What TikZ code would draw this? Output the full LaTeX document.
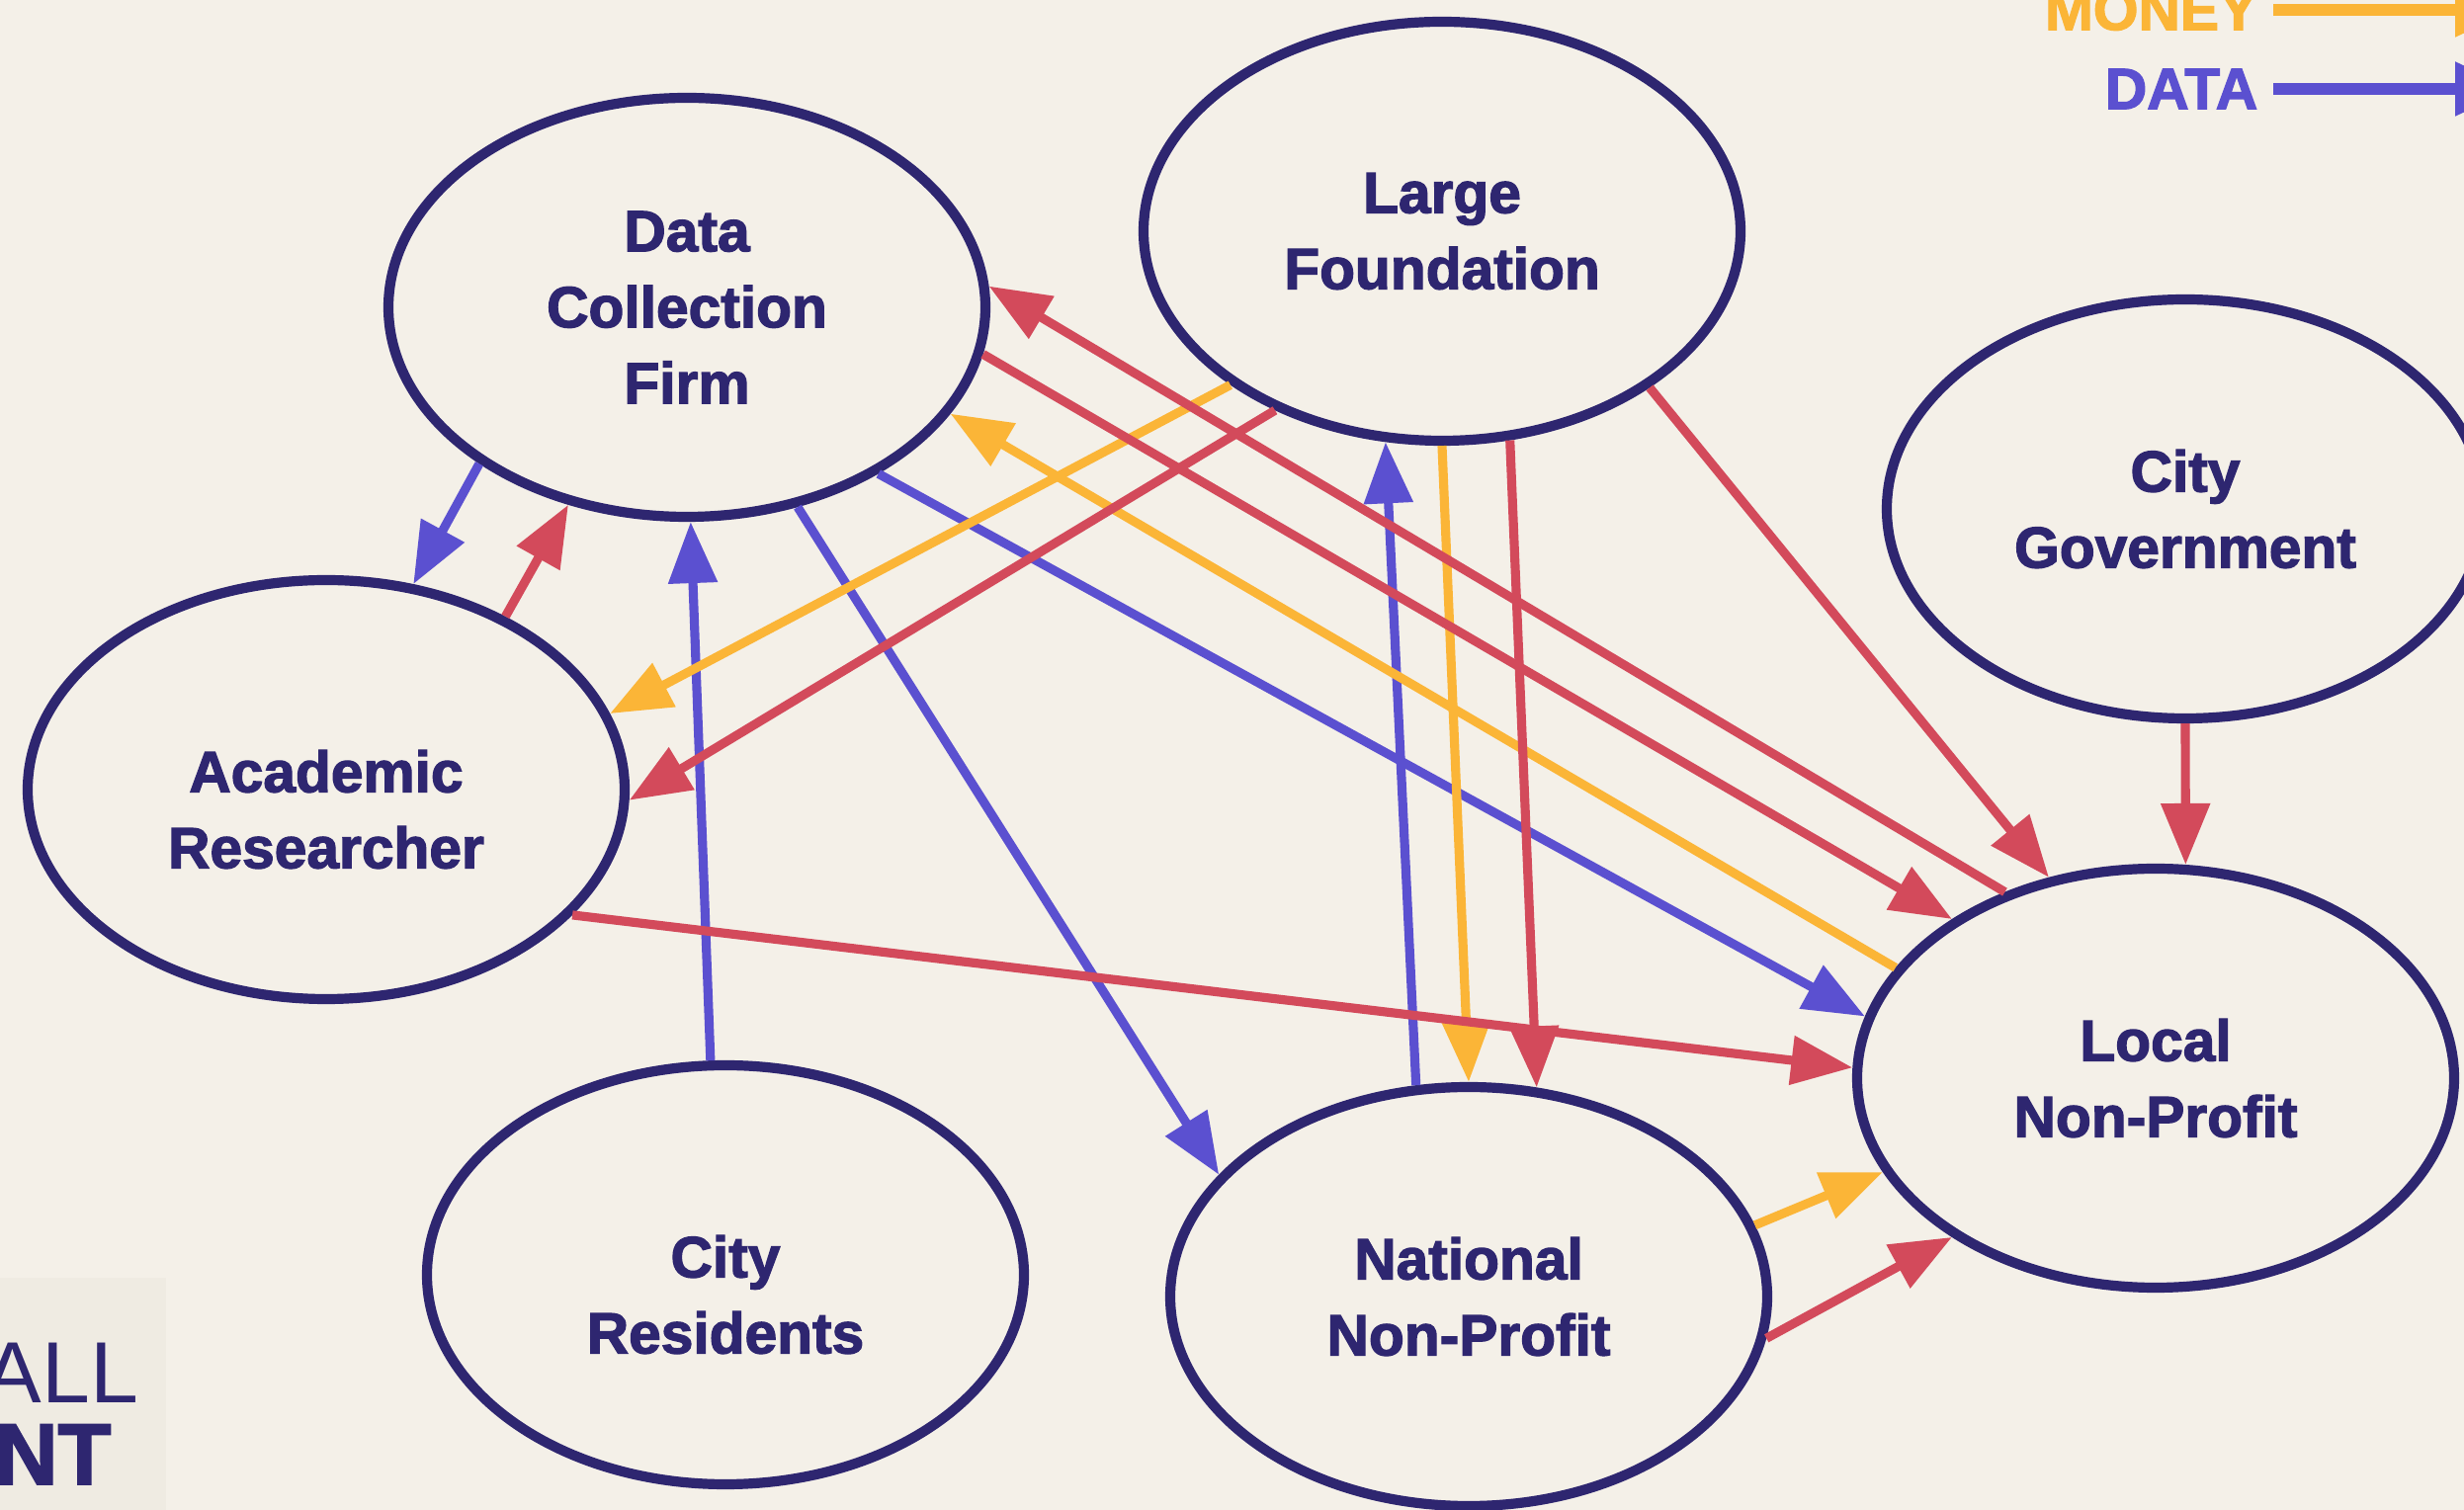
\documentclass[tikz,border=0pt]{standalone}
\usepackage{fontspec}
\setmainfont{Liberation Sans}[BoldFeatures={FakeBold=2.2}]
\usepackage{tikz}
\usetikzlibrary{
  arrows.meta,      % Triangle 箭头
  shapes.geometric  % 椭圆节点
}
\definecolor{paper}{HTML}{F4F0E8}     % 底色
\definecolor{logopaper}{HTML}{EFEBE2} % 左下角标志底色
\definecolor{ink}{HTML}{2E2670}       % 椭圆与文字的深蓝
\definecolor{flowblue}{HTML}{5B50D0}  % 数据流
\definecolor{flowred}{HTML}{D34A5B}   % 红色流向
\definecolor{floworange}{HTML}{FBB537}% 资金流
\newcommand{\partyfont}{\bfseries\fontsize{16.7}{21.9}\selectfont}
\tikzset{
  party/.style={
    ellipse,
    draw=ink,
    line width=2.9pt,
    minimum width=6.04cm,
    minimum height=4.24cm,
    inner sep=0pt,
    align=center,
    text=ink,
    font=\partyfont
  },
  party label/.style={
    align=center,
    text=ink,
    font=\partyfont,
    inner sep=0pt,
    yshift=-0.2cm
  },
  flow/.style={
    -{Triangle[length=0.62cm, width=0.48cm]},
    line width=2.6pt
  },
  data flow/.style={flow, color=flowblue},
  money flow/.style={flow, color=floworange},
  red flow/.style={flow, color=flowred},
  key text/.style={
    font=\partyfont,
    inner sep=4pt,
    anchor=east
  },
  key arrow/.style={
    -{Triangle[length=0.6cm, width=0.52cm]},
    line width=3.3pt
  }
}

\begin{document}
\begin{tikzpicture}[line width=1pt] % 先铺底色，再放七个椭圆，最后连三种颜色的箭头

  % 画布与底色
  \clip (0,0) rectangle (24.93,-15.28); % 画布大小
  \fill[paper] (0,0) rectangle (24.93,-15.28); % 底色
  \fill[logopaper] (0,-12.93) rectangle (1.68,-15.28); % 左下角标志的底块
  \node[anchor=base east, text=ink, font=\fontsize{25}{25}\selectfont, inner sep=0pt] (logotop) at (1.42,-14.20) {ALL}; % 标志上行，左侧被裁掉
  \node[anchor=base east, text=ink, font=\bfseries\fontsize{25}{25}\selectfont, inner sep=0pt] (logobottom) at (1.14,-15.02) {NT}; % 标志下行

  % 各方椭圆
  \node[party] (dcf) at (6.95,-3.11) {Data\\Collection\\Firm}; % 数据采集公司
  \node[party] (lf) at (14.59,-2.34) {Large\\Foundation}; % 大型基金会
  \node[party] (cg) at (22.11,-5.15) {City\\Government}; % 市政府
  \node[party, label={[party label]center:Academic\\Researcher}] (ar) at (3.30,-7.99) {}; % 学术研究者，文字偏下
  \node[party, label={[party label]center:City\\Residents}] (cr) at (7.34,-12.90) {}; % 市民，文字偏下
  \node[party] (nnp) at (14.86,-13.12) {National\\Non-Profit}; % 全国性非营利组织
  \node[party] (lnp) at (21.81,-10.91) {Local\\Non-Profit}; % 地方非营利组织

  % 数据流（蓝）
  \draw[data flow] (dcf.217) -- (ar.67);
  \draw[data flow] (cr.94) -- (dcf.-89);
  \draw[data flow] (dcf.-61) -- (nnp.154);
  \draw[data flow] (dcf.-41) -- (lnp.168);
  \draw[data flow] (nnp.104) -- (lf.-105);

  % 资金流（橙）
  \draw[money flow] (lf.216) -- (ar.15);
  \draw[money flow] (lnp.157) -- (dcf.-22);
  \draw[money flow] (lf.-90) -- (nnp.90);
  \draw[money flow] (nnp.14) -- (lnp.199);

  % 红色流向
  \draw[red flow] (ar.44) -- (dcf.239);
  \draw[red flow] (lf.227) -- (ar.-2);
  \draw[red flow] (lnp.129) -- (dcf.4);
  \draw[red flow] (dcf.-9) -- (lnp.142);
  \draw[red flow] (lf.-37) -- (lnp.118);
  \draw[red flow] (lf.-72) -- (nnp.72);
  \draw[red flow] (cg.-90) -- (lnp.82);
  \draw[red flow] (ar.-27) -- (lnp.178);
  \draw[red flow] (nnp.-8) -- (lnp.218);

  % 右上角图例，箭头伸出画布
  \coordinate (key tip) at (25.44,0); % 图例箭头的尖端，在画布之外
  \node[key text, text=floworange] (money) at (23.00,-0.10) {MONEY};
  \node[key text, text=flowblue] (data) at (23.00,-0.90) {DATA};
  \draw[key arrow, color=floworange] (money.east) -- (money.east -| key tip);
  \draw[key arrow, color=flowblue] (data.east) -- (data.east -| key tip);

\end{tikzpicture}
\end{document}
